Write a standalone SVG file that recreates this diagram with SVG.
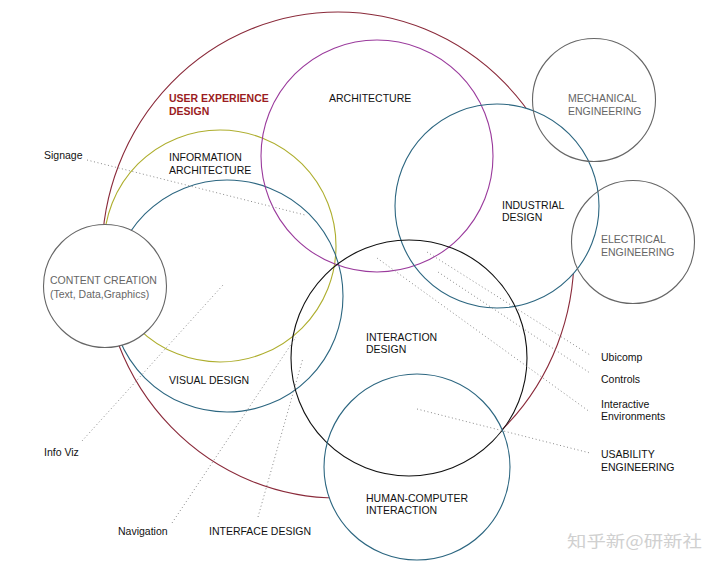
<svg xmlns="http://www.w3.org/2000/svg" width="720" height="573" viewBox="0 0 720 573">
<style>
.c{fill:none;stroke-width:1.1}
.f{fill:#fff;stroke:none}
.t{font-family:"Liberation Sans",Arial,sans-serif;font-size:10.5px;fill:#111}
.g{fill:#666}
.r{fill:#9b1c22;font-weight:bold}
.d{fill:none;stroke:#8a8a8a;stroke-width:1;stroke-dasharray:1 2.6}
.wm{font-family:"Noto Sans CJK SC","Noto Sans",sans-serif;font-size:16px;fill:#d0d0d0}
</style>
<rect width="720" height="573" fill="#fff"/>
<g id="ux-design">
<ellipse class="c" cx="338" cy="255" rx="236" ry="243" stroke="#8a2a3a"/>
</g>
<g id="fills">
<circle class="f" cx="497" cy="206" r="102"/>
<circle class="f" cx="417" cy="467" r="93"/>
</g>
<g id="information-architecture"><circle class="c" cx="220" cy="246" r="116" stroke="#aeae2e"/></g>
<g id="visual-design"><circle class="c" cx="227" cy="296" r="116" stroke="#2c6680"/></g>
<g id="architecture"><circle class="c" cx="377" cy="156" r="116" stroke="#9a3a9c"/></g>
<g id="industrial-design"><circle class="c" cx="497" cy="206" r="102" stroke="#2c6680"/></g>
<g id="mechanical-engineering"><circle class="c" cx="594" cy="100" r="61.5" stroke="#666"/></g>
<g id="electrical-engineering"><circle class="c" cx="633" cy="242" r="61.5" stroke="#666"/></g>
<g id="interaction-design"><circle class="c" cx="409" cy="358" r="118" stroke="#111"/></g>
<g id="hci"><circle class="c" cx="417" cy="467" r="93" stroke="#2c6680"/></g>
<g id="content-creation"><circle cx="105" cy="286" r="61.5" fill="#fff" stroke="#666" stroke-width="1.1"/></g>
<g id="connectors">
<line class="d" x1="87" y1="160" x2="305" y2="215"/>
<line class="d" x1="82" y1="441" x2="223" y2="285"/>
<line class="d" x1="172" y1="523" x2="296" y2="337"/>
<line class="d" x1="258" y1="517" x2="303" y2="358"/>
<line class="d" x1="427" y1="252" x2="590" y2="355"/>
<line class="d" x1="438" y1="272" x2="590" y2="373"/>
<line class="d" x1="377" y1="258" x2="590" y2="412"/>
<line class="d" x1="417" y1="409" x2="590" y2="453"/>
</g>
<g id="labels">
<text class="t r" x="169" y="102">USER EXPERIENCE</text>
<text class="t r" x="169" y="115">DESIGN</text>
<text class="t" x="329" y="102">ARCHITECTURE</text>
<text class="t" x="169" y="161">INFORMATION</text>
<text class="t" x="169" y="173.5">ARCHITECTURE</text>
<text class="t" x="44" y="158.5">Signage</text>
<text class="t g" x="50" y="283.5">CONTENT CREATION</text>
<text class="t g" x="50" y="297.5">(Text, Data,Graphics)</text>
<text class="t g" x="568" y="102">MECHANICAL</text>
<text class="t g" x="568" y="114.5">ENGINEERING</text>
<text class="t" x="502" y="208.5">INDUSTRIAL</text>
<text class="t" x="502" y="221">DESIGN</text>
<text class="t g" x="601" y="243">ELECTRICAL</text>
<text class="t g" x="601" y="255.5">ENGINEERING</text>
<text class="t" x="169" y="384">VISUAL DESIGN</text>
<text class="t" x="44" y="455.5">Info Viz</text>
<text class="t" x="118" y="535">Navigation</text>
<text class="t" x="209" y="535">INTERFACE DESIGN</text>
<text class="t" x="366" y="340.5">INTERACTION</text>
<text class="t" x="366" y="352.5">DESIGN</text>
<text class="t" x="601" y="360.5">Ubicomp</text>
<text class="t" x="601" y="383">Controls</text>
<text class="t" x="601" y="408">Interactive</text>
<text class="t" x="601" y="420">Environments</text>
<text class="t" x="601" y="458">USABILITY</text>
<text class="t" x="601" y="470.5">ENGINEERING</text>
<text class="t" x="366" y="501.5">HUMAN-COMPUTER</text>
<text class="t" x="366" y="514">INTERACTION</text>
<text class="wm" x="567" y="547" textLength="135" lengthAdjust="spacingAndGlyphs">知乎新@研新社</text>
</g>
</svg>
